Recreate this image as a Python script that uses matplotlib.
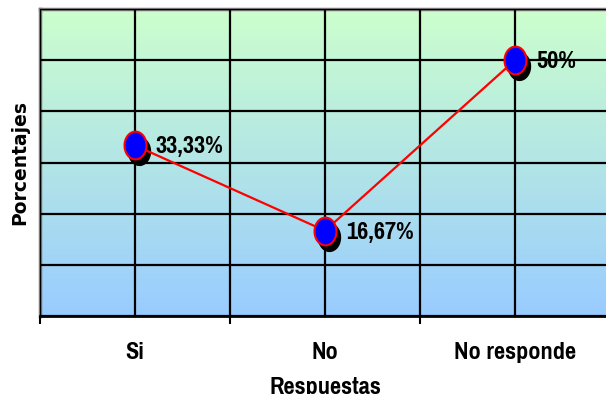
import numpy as np
import matplotlib.pyplot as plt
import matplotlib.transforms as mtransforms
from matplotlib.path import Path
from matplotlib.colors import LinearSegmentedColormap

categorias = ['Si', 'No', 'No responde']
porcentajes = [33.33, 16.67, 50.0]
etiquetas = ['33,33%', '16,67%', '50%']

narrow = ['Pragati Narrow', 'Archivo Narrow', 'DejaVu Sans']

fig = plt.figure(figsize=(6.06, 3.94), dpi=100)
ax = fig.add_axes([40 / 606, 78 / 394, 570 / 606, 307 / 394])

x = np.arange(len(categorias))
ax.set_xlim(-0.5, 2.5)
ax.set_ylim(0, 60)

# fondo degradado verde -> azul
cmap = LinearSegmentedColormap.from_list('fondo', ['#99ccff', '#ccffcc'])
grad = np.linspace(0, 1, 256).reshape(-1, 1)
ax.imshow(grad, cmap=cmap, origin='lower', extent=[-0.5, 2.5, 0, 60],
          aspect='auto', zorder=0)

# rejilla
ax.set_xticks([-0.5, 0.5, 1.5, 2.5])
ax.set_xticks(x, minor=True)
ax.set_xticklabels([])
ax.set_xticklabels(categorias, minor=True, fontsize=19, fontweight='bold',
                   family=narrow)
ax.set_yticks(np.arange(0, 61, 10))
ax.grid(which='both', color='black', linewidth=1.6, zorder=1)
ax.set_axisbelow(False)
ax.tick_params(axis='x', which='major', length=6, width=1.5, direction='out')
ax.tick_params(axis='x', which='minor', length=0, pad=19)
ax.tick_params(axis='y', length=0, labelleft=False)

for s in ['top', 'left']:
    ax.spines[s].set_color('#777777')
    ax.spines[s].set_linewidth(2.5)
ax.spines['bottom'].set_color('black')
ax.spines['bottom'].set_linewidth(2)
ax.spines['right'].set_visible(False)

# marcador elíptico
t = np.linspace(0, 2 * np.pi, 60)
elipse = Path(np.column_stack([0.79 * np.cos(t), np.sin(t)]), closed=True)

sombra = mtransforms.offset_copy(ax.transData, fig=fig, x=4, y=-6, units='dots')
ax.plot(x, porcentajes, linestyle='none', marker=elipse, markersize=20,
        color='black', transform=sombra, zorder=3)
ax.plot(x, porcentajes, color='red', linewidth=1.6, zorder=4)
ax.plot(x, porcentajes, linestyle='none', marker=elipse, markersize=20,
        markerfacecolor='blue', markeredgecolor='red', markeredgewidth=1.5,
        zorder=5)

for xi, yi, txt in zip(x, porcentajes, etiquetas):
    ax.annotate(txt, (xi, yi), xytext=(15, -1), textcoords='offset points',
                ha='left', va='center', fontsize=19, fontweight='bold',
                family=narrow, zorder=6)

ax.set_xlabel('Respuestas', fontsize=19, fontweight='bold', family=narrow,
              labelpad=10)
ax.set_ylabel('Porcentajes', fontsize=13.5, fontweight='bold',
              family=['DejaVu Sans'], labelpad=8)

fig.savefig('out.png', dpi=100)
